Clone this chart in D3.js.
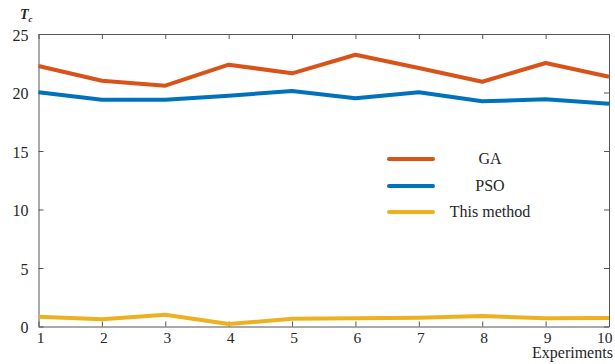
<!DOCTYPE html>
<html>
<head>
<meta charset="utf-8">
<script src="https://d3js.org/d3.v7.min.js"></script>
<style>
  body { margin: 0; background: #fff; }
  svg text { font-family: "Liberation Serif", "Times New Roman", serif; fill: #262626; }
</style>
</head>
<body>
<div id="chart"></div>
<script>
// data
const experiments = [1, 2, 3, 4, 5, 6, 7, 8, 9, 10];
const gaValues = [22.26, 21.0, 20.58, 22.38, 21.64, 23.23, 22.09, 20.92, 22.52, 21.35];
const psoValues = [20.02, 19.38, 19.38, 19.73, 20.13, 19.5, 20.02, 19.25, 19.42, 19.04];
const methodValues = [0.84, 0.61, 1.01, 0.21, 0.67, 0.7, 0.75, 0.9, 0.7, 0.73];
const yTicks = [0, 5, 10, 15, 20, 25];
const seriesNames = ["GA", "PSO", "This method"];
const seriesColors = ["#D95319", "#0072BD", "#EDB120"];

var width = 615,
    height = 364;

// plot box edges (note: "top" is taken by window.top, so use other names)
var plotLeft = 38.5, plotRight = 609, plotTop = 34, plotBottom = 326.5;

var svg = d3.select("#chart").append("svg")
    .attr("width", width)
    .attr("height", height);

var x = d3.scaleLinear().domain([1, 10]).range([plotLeft, plotRight]);
var y = d3.scaleLinear().domain([0, 25]).range([plotBottom, plotTop]);

var axisColor = "#555";

// the box (matlab style, ticks pointing inwards on all four sides)
var bottomAxis = svg.append("g")
    .attr("transform", "translate(0," + plotBottom + ")")
    .call(d3.axisBottom(x).tickValues(experiments).tickSizeInner(-5).tickSizeOuter(0).tickPadding(5));
var topAxis = svg.append("g")
    .attr("transform", "translate(0," + plotTop + ")")
    .call(d3.axisTop(x).tickValues(experiments).tickSizeInner(-5).tickSizeOuter(0).tickFormat(""));
var leftAxis = svg.append("g")
    .attr("transform", "translate(" + plotLeft + ",0)")
    .call(d3.axisLeft(y).tickValues(yTicks).tickSizeInner(-5).tickSizeOuter(0).tickPadding(10));
var rightAxis = svg.append("g")
    .attr("transform", "translate(" + plotRight + ",0)")
    .call(d3.axisRight(y).tickValues(yTicks).tickSizeInner(-5).tickSizeOuter(0).tickFormat(""));

[bottomAxis, topAxis, leftAxis, rightAxis].forEach(function(g) {
  g.attr("font-family", null);
  g.selectAll("path, line").attr("stroke", axisColor).attr("stroke-width", 1);
  g.selectAll("text")
    .style("font-family", "'Liberation Serif', serif")
    .style("font-size", "16px")
    .attr("fill", "#262626");
});

// nudge tick labels a little like the original
bottomAxis.selectAll("text").attr("dx", "1.5").style("font-size", "15.5px");
bottomAxis.selectAll(".tick").filter(function(d) { return d === 10; })
    .select("text").attr("text-anchor", "end").attr("dx", "3");
leftAxis.selectAll("text").attr("dy", "0.4em");

// the three lines
var line = d3.line()
    .x(function(d, i) { return x(experiments[i]); })
    .y(function(d) { return y(d); });

var allSeries = [gaValues, psoValues, methodValues];
svg.append("g")
  .selectAll("path")
    .data(allSeries)
  .enter().append("path")
    .attr("d", line)
    .attr("fill", "none")
    .attr("stroke", function(d, i) { return seriesColors[i]; })
    .attr("stroke-width", 4)
    .attr("stroke-linejoin", "round");

// legend
var legendY = [159, 186, 212];
var legend = svg.append("g")
  .selectAll("g")
    .data(seriesNames)
  .enter().append("g")
    .attr("transform", function(d, i) { return "translate(0," + legendY[i] + ")"; });

legend.append("line")
    .attr("x1", 389)
    .attr("x2", 433)
    .attr("stroke", function(d, i) { return seriesColors[i]; })
    .attr("stroke-width", 4)
    .attr("stroke-linecap", "round");

legend.append("text")
    .attr("x", 490)
    .attr("y", 5)
    .attr("text-anchor", "middle")
    .style("font-size", "16px")
    .text(function(d) { return d; });

// axis titles
var tc = svg.append("text")
    .attr("x", 20)
    .attr("y", 18.7)
    .style("font-size", "14px")
    .style("font-weight", "bold")
    .style("font-style", "italic");
tc.append("tspan").text("T");
tc.append("tspan").attr("dy", 3).style("font-size", "9px").text("c");

svg.append("text")
    .attr("x", 532)
    .attr("y", 358)
    .style("font-size", "16px")
    .text("Experiments");
</script>
</body>
</html>
